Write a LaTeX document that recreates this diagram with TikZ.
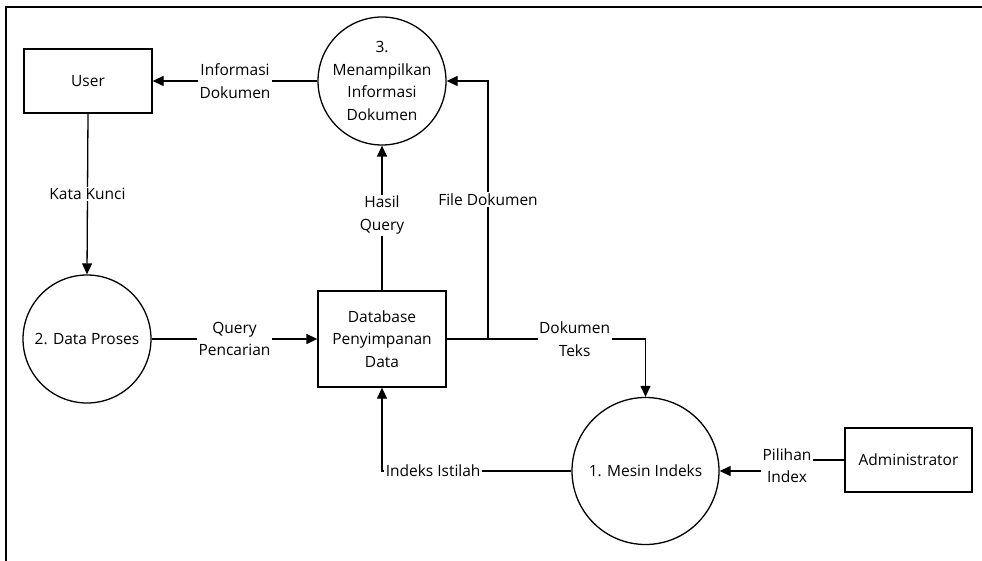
\documentclass[tikz,border=0pt]{standalone}
\usepackage{fontspec}
\setmainfont{Open Sans}
\usetikzlibrary{arrows.meta}
\begin{document}
\begin{tikzpicture}[x=1pt,y=-1pt,
  flow/.style={line width=1.3pt,-{Triangle[length=11pt,width=10pt]}},
  plain/.style={line width=1.3pt},
  entity/.style={draw,line width=1.3pt,minimum width=128pt,minimum height=64pt,align=center},
  process/.style={draw,circle,line width=1.3pt,align=center,inner sep=0pt},
  lbl/.style={fill=white,align=center,inner sep=1.5pt},
  every node/.style={font=\fontsize{15.5}{22.5}\selectfont}]
\useasboundingbox (0,0) rectangle (982,561);
% page frame
\draw[line width=2pt] (5,7.5) -- (982,7.5);
\draw[line width=2pt] (6,7.5) -- (6,561);

% entities, processes and the data store
\node[entity] (user) at (88,81) {User};
\node[entity,minimum width=127pt] (admin) at (908.5,460) {Administrator};
\node[entity,minimum height=96pt] (db) at (382,339) {Database\\Penyimpanan\\Data};
\node[process,minimum size=128pt] (p3) at (382,81) {3.\\Menampilkan\\Informasi\\Dokumen};
\node[process,minimum size=128pt] (p2) at (87,339) {2. Data Proses};
\node[process,minimum size=147pt] (p1) at (645.5,471) {1. Mesin Indeks};

\coordinate (jct) at (488,339);
\coordinate (fileup) at (488,81);
\coordinate (teks) at (645.5,339);
\coordinate (idx) at (382,471);
\coordinate (pil1) at (787,460);
\coordinate (pil2) at (787,471);

% data flows
\draw[flow] (p3.west) -- node[lbl] {Informasi\\Dokumen} (user.east);
\draw[flow] (user.south) -- node[lbl,pos=0.5] {Kata Kunci} (p2.north);
\draw[flow] (p2.east) -- node[lbl] {Query\\Pencarian} (db.west);
\draw[flow] (db.north) -- node[lbl,pos=0.52] {Hasil\\Query} (p3.south);
\draw[plain] (db.east) -- (jct);
\draw[flow] (jct) -- node[lbl,pos=0.54] {File Dokumen} (fileup) -- (p3.east);
\draw[flow] (jct) -- node[lbl,pos=0.55] {Dokumen\\Teks} (teks) -- (p1.north);
\draw[flow] (p1.west) -- node[lbl,pos=0.73] {Indeks Istilah} (idx) -- (db.south);
\draw[flow] (admin.west) -- (pil1) -- node[lbl] {Pilihan\\Index} (pil2) -- (p1.east);
\end{tikzpicture}
\end{document}
